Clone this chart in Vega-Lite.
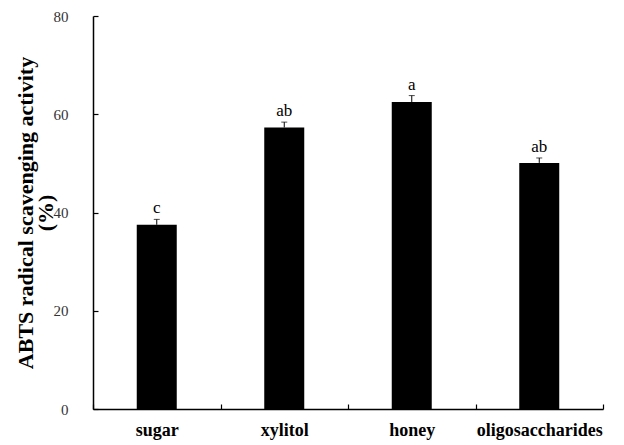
{
  "$schema": "https://vega.github.io/schema/vega-lite/v6.json",
  "autosize": "none",
  "width": 510,
  "height": 393,
  "padding": {"left": 93, "top": 16, "right": 21, "bottom": 36},
  "background": "white",
  "config": {"view": {"stroke": null}, "font": "Liberation Serif"},
  "data": {"values": [
    {"sweetener": "sugar", "activity": 37.5, "err": 1.1, "letter": "c"},
    {"sweetener": "xylitol", "activity": 57.3, "err": 1.1, "letter": "ab"},
    {"sweetener": "honey", "activity": 62.5, "err": 1.3, "letter": "a"},
    {"sweetener": "oligosaccharides", "activity": 50.1, "err": 1.0, "letter": "ab"}
  ]},
  "transform": [{"calculate": "datum.activity + datum.err", "as": "hi"}],
  "encoding": {
    "x": {"field": "sweetener", "type": "nominal", "sort": null,
      "scale": {"paddingInner": 0, "paddingOuter": 0},
      "axis": {"title": null, "labelAngle": 0, "labelFont": "Liberation Serif", "labelFontWeight": "bold",
        "labelFontSize": 18, "labelColor": "black", "labelPadding": 17, "tickBand": "extent",
        "tickSize": -5, "tickColor": "black", "tickWidth": 1.2, "domainColor": "black", "domainWidth": 1.5}}
  },
  "layer": [
    {"mark": {"type": "bar", "color": "black", "size": 40},
     "encoding": {"y": {"field": "activity", "type": "quantitative",
       "scale": {"domain": [0, 80]},
       "axis": {"values": [0, 20, 40, 60, 80], "grid": false, "tickSize": -5, "tickColor": "black", "tickWidth": 1.2,
         "domainColor": "black", "domainWidth": 1.5, "labelFont": "Liberation Serif", "labelFontSize": 15,
         "labelColor": "#333333", "labelPadding": 30,
         "title": ["ABTS radical scavenging activity", "(%)"], "titleFont": "Liberation Serif",
         "titleFontSize": 22, "titleFontWeight": "bold", "titleColor": "black", "titlePadding": -4, "titleLineHeight": 20}}}},
    {"mark": {"type": "rule", "color": "black", "strokeWidth": 1},
     "encoding": {"y": {"field": "activity", "type": "quantitative"}, "y2": {"field": "hi"}}},
    {"mark": {"type": "tick", "color": "black", "size": 6, "thickness": 1},
     "encoding": {"y": {"field": "hi", "type": "quantitative"}}},
    {"mark": {"type": "text", "baseline": "bottom", "dy": -2, "fontSize": 17, "font": "Liberation Serif", "color": "black"},
     "encoding": {"y": {"field": "hi", "type": "quantitative"}, "text": {"field": "letter"}}}
  ]
}
